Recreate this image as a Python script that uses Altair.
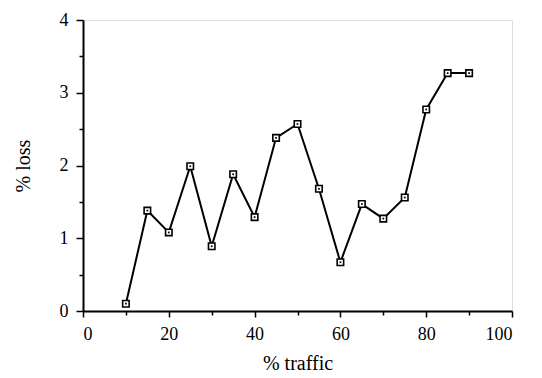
import altair as alt
import pandas as pd

traffic = [10, 15, 20, 25, 30, 35, 40, 45, 50, 55, 60, 65, 70, 75, 80, 85, 90]
loss = [0.1, 1.38, 1.08, 1.99, 0.89, 1.88, 1.29, 2.38, 2.57, 1.68, 0.67, 1.47, 1.27, 1.56, 2.77, 3.27, 3.27]
x_ticks = [0, 10, 20, 30, 40, 50, 60, 70, 80, 90, 100]
y_ticks = [0, 0.5, 1, 1.5, 2, 2.5, 3, 3.5, 4]

df = pd.DataFrame({"traffic": traffic, "loss": loss})

font = "Times New Roman"

x = alt.X("traffic:Q", scale=alt.Scale(domain=[0, 100], nice=False),
          axis=alt.Axis(values=x_ticks, title="% traffic", format="d",
                        labelExpr="datum.value % 20 == 0 ? datum.label : ''",
                        tickSize={"condition": {"test": "datum.value % 20 == 0", "value": 6}, "value": 4},
                        grid=False, domainColor="black", domainWidth=2, tickColor="black",
                        tickWidth=1.5, labelFont=font, labelFontSize=18, labelColor="black",
                        labelPadding=8, titleFont=font, titleFontSize=20, titleFontWeight="normal",
                        titleColor="black", titlePadding=10))
y = alt.Y("loss:Q", scale=alt.Scale(domain=[0, 4], nice=False),
          axis=alt.Axis(values=y_ticks, title="% loss", format=".0f",
                        labelExpr="datum.value % 1 == 0 ? datum.label : ''",
                        tickSize={"condition": {"test": "datum.value % 1 == 0", "value": 7}, "value": 4},
                        grid=False, domainColor="black", domainWidth=2, tickColor="black",
                        tickWidth=1.5, labelFont=font, labelFontSize=18, labelColor="black",
                        labelPadding=8, titleFont=font, titleFontSize=20, titleFontWeight="normal",
                        titleColor="black", titlePadding=26))

base = alt.Chart(df)
line = base.mark_line(color="black", strokeWidth=2).encode(x=x, y=y)
pts = base.mark_point(shape="square", filled=False, color="black", fill="white",
                      fillOpacity=1, strokeWidth=1.6, size=42, opacity=1).encode(x=x, y=y)
dots = base.mark_point(shape="square", filled=True, color="black", size=3, opacity=1).encode(x=x, y=y)

chart = alt.layer(line, pts, dots).properties(
    width=429, height=291,
    autosize=alt.AutoSizeParams(type="none"),
    padding={"left": 75, "top": 12, "right": 20, "bottom": 66},
).configure_view(stroke=None).configure(background="white", font=font)

chart.save("out.html", embed_options={"renderer": "svg", "actions": False})
